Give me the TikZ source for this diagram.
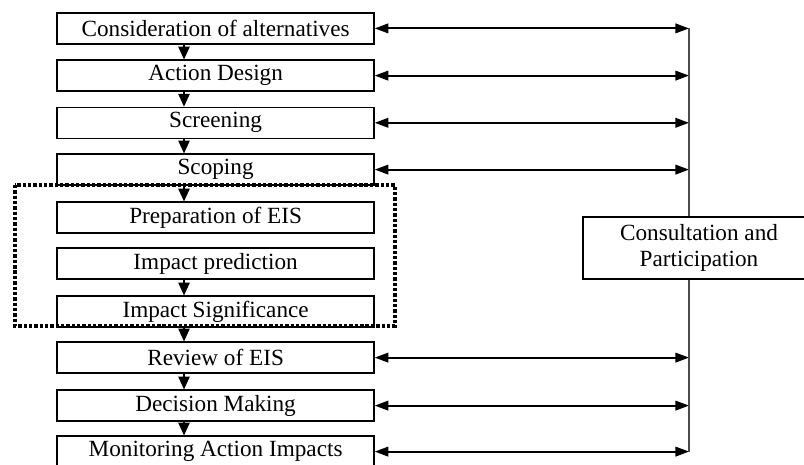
\documentclass[tikz,border=0pt]{standalone}
\usepackage{fontspec}
\setmainfont{Liberation Serif}
\usetikzlibrary{arrows.meta}

\tikzset{
    stage/.style={draw, line width=0.9pt, minimum width=7.925cm, minimum height=0.775cm, inner sep=0pt, font=\fontsize{16.5}{19}\selectfont},
    flow/.style={-{Triangle[length=3.2mm,width=2.8mm]}, line width=1.3pt},
    link/.style={{Triangle[length=3.4mm,width=2.4mm]}-{Triangle[length=3.4mm,width=2.4mm]}, line width=1.3pt}
}

\begin{document}
\begin{tikzpicture}
            \useasboundingbox (0,0) rectangle (20.1,-11.6);

            \node [stage] (CA)  at (5.39,-0.71)  {Consideration of alternatives};
            \node [stage] (AD)  at (5.39,-1.89)  {Action Design};
            \node [stage] (SCR) at (5.39,-3.07)  {Screening};
            \node [stage] (SCO) at (5.39,-4.24)  {Scoping};
            \node [stage] (PE)  at (5.39,-5.44)  {Preparation of EIS};
            \node [stage] (IP)  at (5.39,-6.59)  {Impact prediction};
            \node [stage] (IS)  at (5.39,-7.79)  {Impact Significance};
            \node [stage] (RE)  at (5.39,-8.94)  {Review of EIS};
            \node [stage] (DM)  at (5.39,-10.14) {Decision Making};
            \node [stage] (MA)  at (5.39,-11.29) {Monitoring Action Impacts};

            \node [draw, line width=0.9pt, minimum width=5.8cm, minimum height=1.55cm, align=center, font=\fontsize{16.5}{19}\selectfont] (CP) at (17.475,-6.2) {Consultation and\\Participation};

            \coordinate (AX) at (4.6,0);
            \coordinate (LX) at (17.225,0);

            % dotted frame round the EIS steps
            \draw[line width=2.6pt, dash pattern=on 2.4pt off 1.4pt] (0.375,-4.625) rectangle (9.875,-8.15);

            \draw[flow] (CA.south -| AX) -- (AD.north -| AX);
            \draw[flow] (AD.south -| AX) -- (SCR.north -| AX);
            \draw[flow] (SCR.south -| AX) -- (SCO.north -| AX);
            \draw[flow] (SCO.south -| AX) -- (PE.north -| AX);
            \draw[flow] (IP.south -| AX) -- (IS.north -| AX);
            \draw[flow] (IS.south -| AX) -- (RE.north -| AX);
            \draw[flow] (RE.south -| AX) -- (DM.north -| AX);
            \draw[flow] (DM.south -| AX) -- (MA.north -| AX);

            \draw[link] (CA.east) -- (CA.east -| LX);
            \draw[link] (AD.east) -- (AD.east -| LX);
            \draw[link] (SCR.east) -- (SCR.east -| LX);
            \draw[link] (SCO.east) -- (SCO.east -| LX);
            \draw[link] (RE.east) -- (RE.east -| LX);
            \draw[link] (DM.east) -- (DM.east -| LX);
            \draw[link] (MA.east) -- (MA.east -| LX);

            \draw[line width=1.1pt, black!70] (CA.east -| LX) -- (CP.north -| LX);
            \draw[line width=1.1pt, black!70] (CP.south -| LX) -- (MA.east -| LX);
\end{tikzpicture}
\end{document}
